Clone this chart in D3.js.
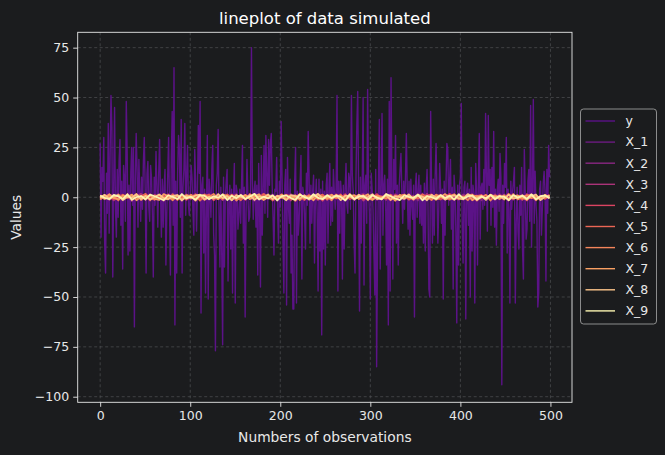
<!DOCTYPE html>
<html>
<head>
<meta charset="utf-8">
<script src="https://cdn.jsdelivr.net/npm/d3@7"></script>
<style>
  body { margin: 0; background: #1b1c1e; }
  svg { display: block; font-family: "DejaVu Sans", sans-serif; }
</style>
</head>
<body>
<div id="chart"></div>
<script>
// series names and colours (legend order)
const seriesNames = ["y", "X_1", "X_2", "X_3", "X_4", "X_5", "X_6", "X_7", "X_8", "X_9"];
const seriesColors = ["#5b1287", "#6c1b80", "#8a2882", "#ab3479", "#dc4462", "#ec6655", "#f5855b", "#f9a063", "#fcc58a", "#fbf4b0"];

const xTicks = [0, 100, 200, 300, 400, 500];
const yTicks = [-100, -75, -50, -25, 0, 25, 50, 75];

const yValues = [
  27, -20, 15, 8, 30, -23, -38, 12, -8, 37,
  -18, 20, 51, 35, -40, 5, 45, -6, -20, 14,
  -10, 18, 29, -14, 8, -36, 16, 10, -12, 48,
  22, -29, 6, -27, 12, 25, -4, 25, -65, 8,
  32, 14, -15, 19, 3, -12, 10, -6, 18, 30,
  4, -38, 12, 18, -5, -12, 16, 10, -8, -40,
  10, -4, 23, 6, -15, 12, 29, 2, -20, 9,
  -15, 5, 14, -34, -8, 11, 30, -6, -39, 20,
  43, -14, 65, -64, 8, -38, 12, 31, 24, -10,
  39, -38, 5, 14, 37, -9, 11, 26, -4, -9,
  2, 16, 10, -7, -19, 24, 8, -17, 3, 36,
  12, 48, -58, 6, 10, -28, 4, -48, -6, 31,
  -51, 9, 2, -10, 14, 26, -18, -29, -77, 6,
  12, 34, -8, -35, 5, -29, -74, 10, -35, 0,
  8, 14, -42, -3, 6, -26, 4, -48, -2, 17,
  -53, 6, 3, -16, -9, 4, -13, 7, 26, -23,
  5, -60, -8, 19, 2, -12, -10, 4, 75, 9,
  -11, 3, 8, -15, 6, -39, 17, -5, -45, 21,
  -19, 4, 26, -8, 31, 12, -10, 29, 6, 27,
  32, 6, -10, -29, 4, 3, 20, -6, -23, 8,
  -5, 38, 10, -23, -48, 6, 14, -54, 20, -4,
  -13, 9, -38, -19, -56, -56, 8, 25, -53, 3,
  -19, -11, 7, 21, -41, 5, 2, -9, -26, 12,
  -4, 33, 10, -23, 6, -13, 3, 11, -33, -2,
  9, -8, -47, 9, -27, 4, -69, 8, -26, 3,
  -34, 6, 12, -23, 4, 17, -14, 5, -12, 14,
  3, -6, 5, 51, -47, 8, -18, 8, 2, -41,
  6, -26, 4, 17, -4, -8, 12, 9, -6, 51,
  11, 3, -23, -38, 8, 36, 53, 4, -57, 10,
  -23, 7, 50, -44, 6, 11, -13, 54, 4, -8,
  -51, 12, 4, -6, -28, -49, 14, -85, -27, 8,
  39, -36, 5, 42, -19, 6, 11, -4, -34, 9,
  -64, 48, -47, 60, 8, -41, 19, 4, 31, -23,
  6, -34, 5, 14, 22, 3, -13, 8, -6, 10,
  32, 4, -16, 8, -19, 9, -4, -11, 6, -60,
  5, 12, -10, 3, 11, -13, 6, -14, 2, -23,
  7, -27, 4, 14, -3, -46, -50, 43, 6, -23,
  9, -19, 11, 27, 3, -23, -6, 17, 5, -13,
  4, -51, 8, -19, 6, 27, 24, -4, 8, 19,
  -16, 5, -46, 11, 3, -17, -63, 6, -34, 6,
  10, 47, -14, -33, 5, 8, -61, 3, 7, -14,
  4, -50, 15, -27, 6, 2, -53, 17, 4, -34,
  8, 32, -21, 5, 7, -6, 14, -4, 42, 10,
  -17, 41, 6, 14, -14, 15, -5, 33, -15, 4,
  -24, 4, 9, -7, 22, 10, -94, 6, -13, 17,
  5, 30, -28, 4, -6, -53, 8, -6, 3, 8,
  15, -53, -13, 5, -17, -26, 6, -9, 15, -26,
  -41, 24, 3, -21, -16, 8, 14, -12, 46, -25,
  6, 49, -13, 13, -4, -12, -55, -48, 4, 8,
  -19, -6, 7, 13, 3, -42, 14, -8, 26, 10
];

// X_1..X_9 read at 100 evenly spaced observations across 0..499
const x1 = [0.5,-1.2,0.8,1.6,-0.4,-1.8,0.3,1.1,-0.9,0.2,1.4,-0.6,-1.5,0.9,0.1,-0.3,1.9,-1.1,0.6,-0.2,-0.8,1.3,0.4,-1.6,0.7,-0.1,1.0,-1.3,0.2,1.7,-0.5,-1.0,0.8,0.3,-1.9,1.2,-0.7,0.5,1.5,-0.4,0.0,-1.4,0.9,1.1,-0.6,-0.2,1.6,-1.7,0.4,0.8,-1.1,0.6,-0.3,1.3,-0.9,0.2,-1.5,1.0,0.7,-0.5,1.8,-1.2,0.1,-0.8,0.6,1.4,-0.4,-1.3,0.9,0.3,-0.7,1.1,-1.6,0.5,0.2,-0.9,1.5,-0.1,-1.0,0.8,0.4,-1.8,1.2,-0.3,0.7,-0.6,1.0,-1.4,0.3,1.6,-0.2,-1.1,0.6,1.3,-0.8,0.1,-1.5,0.9,0.5,-0.4];
const x2 = [-0.3,0.9,-1.4,0.2,1.2,-0.7,0.6,-1.9,1.0,0.4,-0.5,1.5,-0.2,-1.1,0.8,1.3,-0.9,0.1,-1.6,0.7,1.1,-0.4,0.3,-1.2,1.7,-0.6,0.0,0.9,-1.3,0.5,-0.8,1.4,0.2,-0.5,-1.5,1.0,0.6,-0.3,1.2,-1.7,0.4,-0.1,1.6,-0.9,0.3,-1.2,0.8,0.5,-0.6,1.1,-1.4,0.2,0.9,-0.7,1.3,-0.2,-1.0,0.6,1.8,-0.5,0.1,-1.3,0.7,0.4,-0.9,1.5,-0.4,-1.1,0.3,0.8,-1.6,1.0,-0.2,0.6,-0.8,1.2,0.2,-1.4,0.9,-0.3,1.4,-0.6,-0.1,1.1,-1.5,0.5,0.7,-0.9,1.6,-0.4,0.3,-1.2,1.0,-0.7,0.2,1.3,-1.0,0.4,-0.5,0.8];
const x3 = [1.0,-0.6,0.3,-1.5,0.8,1.2,-0.2,-1.0,0.5,1.7,-1.3,0.1,0.9,-0.4,-1.8,0.6,1.1,-0.7,0.2,1.4,-0.9,0.4,-1.1,1.6,0.0,-0.5,1.2,-1.4,0.7,0.3,1.5,-0.8,-0.2,1.0,-1.2,0.4,1.8,-0.6,-1.0,0.9,0.2,1.3,-1.6,0.5,-0.3,1.1,-0.9,0.6,-1.4,0.8,0.3,-0.7,1.5,-1.2,0.1,0.9,-0.4,1.2,-1.7,0.4,-0.6,1.0,0.5,-1.3,1.4,-0.1,-0.8,0.7,1.1,-1.5,0.2,-0.4,1.7,-0.9,0.6,-1.1,0.3,1.3,-0.5,-1.2,0.8,1.0,-0.3,-1.6,0.5,0.9,-0.7,1.4,-1.0,0.1,1.2,-0.8,0.4,-1.4,1.6,-0.2,-0.9,0.7,0.3,-0.6];
const x4 = [-0.8,0.4,1.3,-1.1,0.2,-0.5,1.6,-1.4,0.9,-0.1,0.7,-1.6,1.1,0.3,-0.6,1.4,-1.0,0.5,0.8,-1.3,0.1,1.5,-0.7,-0.2,1.0,-1.5,0.6,0.3,-0.9,1.2,-0.4,0.9,-1.3,1.7,-0.3,-0.8,0.5,1.1,-1.6,0.2,1.3,-0.5,-1.1,0.7,0.4,-1.4,1.0,-0.2,0.6,-1.7,0.8,1.2,-0.6,-0.3,1.5,-1.0,0.3,0.9,-1.2,0.5,-0.1,1.6,-0.8,0.2,-1.5,1.1,0.6,-0.4,1.3,-0.9,0.4,-1.2,0.8,1.4,-0.6,-1.0,0.1,1.7,-1.3,0.5,-0.2,0.9,-1.5,0.6,1.2,-0.7,0.3,-1.1,1.0,-0.4,1.5,-0.9,0.2,0.7,-1.6,1.1,-0.3,0.4,-0.8,1.3];
const x5 = [0.2,1.1,-0.9,0.6,-1.6,1.3,-0.3,0.8,-1.1,0.4,1.7,-0.5,-1.2,0.9,0.3,-0.8,1.5,-1.4,0.1,0.6,-0.2,1.0,-1.7,0.7,1.2,-0.6,0.4,-1.0,1.4,-0.3,0.5,-1.5,1.1,-0.1,0.8,-0.9,1.6,0.2,-1.3,0.7,-0.4,1.2,0.3,-1.8,0.9,-0.2,1.0,-0.7,0.5,1.3,-1.1,0.6,-0.5,1.4,-1.3,0.2,0.8,-0.6,1.1,-1.5,0.9,0.4,-1.0,1.6,-0.4,-0.9,0.7,1.2,-1.2,0.3,-0.7,1.5,0.1,-1.4,0.6,1.0,-0.5,-1.1,1.3,0.2,-0.9,0.8,1.4,-1.6,0.3,-0.3,1.1,-0.8,0.6,-1.2,1.7,-0.4,0.5,-1.0,0.9,1.2,-1.5,0.2,-0.6,1.0];
const x6 = [-1.2,0.7,0.3,-0.5,1.4,-1.0,0.9,-0.2,1.6,-1.4,0.4,0.8,-1.1,1.2,-0.6,0.2,-1.5,1.0,0.5,-0.8,1.3,-0.3,0.6,-1.3,0.1,1.7,-0.9,0.4,-0.4,1.1,-1.6,0.3,0.9,-0.7,1.5,-0.1,-1.2,0.8,0.2,-1.0,1.4,-0.6,0.5,1.0,-1.4,0.7,-0.3,1.3,-0.9,0.0,0.6,-1.5,1.2,0.3,-0.7,1.6,-1.1,0.4,0.9,-0.5,-1.3,0.8,0.2,-0.6,1.1,-1.7,0.5,1.4,-0.2,-0.8,1.0,-0.4,0.7,-1.2,1.3,0.1,-1.0,0.6,1.5,-0.9,0.3,-1.4,0.9,0.5,-0.3,1.2,-1.6,0.8,-0.1,0.4,-0.7,1.6,-1.1,0.2,1.0,-0.5,0.6,-1.3,1.1,-0.2];
const x7 = [0.6,-0.9,1.5,-0.3,-1.1,0.8,0.2,1.3,-1.5,0.5,-0.4,1.0,-0.8,-1.3,1.6,0.3,-0.6,0.9,-1.2,1.1,0.4,-1.7,0.7,1.2,-0.5,0.1,-1.0,1.4,0.6,-1.4,0.9,-0.2,1.1,-0.9,0.3,1.5,-1.3,0.0,0.7,-0.6,1.2,-1.1,0.4,-0.3,1.7,-0.8,0.5,-1.5,1.0,0.2,-0.7,1.3,-0.1,0.8,-1.4,0.6,1.1,-0.9,0.3,1.5,-1.2,0.2,-0.6,1.0,0.7,-1.6,1.2,-0.4,0.5,-1.0,1.4,0.3,-0.7,0.9,-1.3,0.1,1.6,-0.5,-0.9,0.8,-0.3,1.1,-1.4,0.4,0.6,-1.1,1.3,0.2,-0.8,1.0,-1.6,0.5,0.9,-0.2,-1.2,1.4,0.0,-0.7,1.2,-0.4];
const x8 = [-0.4,1.2,-0.7,0.5,1.0,-1.4,0.3,-0.2,1.5,-0.9,0.8,-1.2,0.1,1.4,-0.5,-1.0,0.7,1.1,-1.6,0.4,-0.3,0.9,1.3,-1.1,0.2,-0.7,1.6,-0.4,0.6,-1.5,1.0,0.3,-0.8,1.2,-1.3,0.5,-0.1,1.4,-1.0,0.7,0.2,-1.5,1.1,0.6,-0.6,0.9,-1.2,0.3,1.7,-0.8,0.4,-0.2,1.0,-1.4,0.8,0.5,-1.1,1.3,-0.3,0.1,1.5,-0.9,-0.4,1.1,-1.3,0.6,0.2,-0.8,1.4,-1.0,0.7,0.3,-1.5,1.2,-0.1,0.9,-1.2,0.4,1.0,-0.6,-1.1,1.6,0.2,-0.5,0.8,-1.3,1.1,-0.2,0.6,-0.9,1.3,-0.6,-0.3,1.0,-1.0,0.5,1.4,-1.4,0.3,0.7];
const x9 = [0.9,-0.3,-1.0,1.2,0.4,-0.8,1.5,-1.3,0.1,0.6,-1.1,1.3,0.5,-0.4,-1.5,1.0,0.2,-0.9,1.6,-0.6,0.3,-1.2,1.1,0.7,-1.0,0.5,-0.2,1.4,-1.4,0.8,-0.5,1.2,-0.9,0.4,1.7,-1.1,0.3,-0.6,1.0,-1.6,0.6,0.9,-0.4,-1.3,1.3,0.1,-0.7,1.5,-0.3,-1.0,1.1,-0.5,0.8,0.2,-1.6,1.4,-0.8,0.3,0.7,-1.2,1.0,-0.1,-1.1,1.6,0.5,-0.6,-1.4,0.9,0.2,-0.3,1.3,-1.5,0.6,0.1,-0.9,1.1,-0.4,0.8,-1.2,1.5,-0.7,0.4,1.0,-1.3,0.3,-0.5,1.2,-1.0,0.6,0.2,-1.4,1.1,-0.2,0.7,-0.8,1.4,-1.1,0.5,0.9,-0.5];

const W = 665, H = 455;
const margin = {top: 32.3, right: 93, bottom: 52.7, left: 77.7};
const innerW = W - margin.left - margin.right;
const innerH = H - margin.top - margin.bottom;

const svg = d3.select("#chart").append("svg")
    .attr("width", W)
    .attr("height", H);

svg.append("rect").attr("width", W).attr("height", H).attr("fill", "#1b1c1e");

const g = svg.append("g")
    .attr("transform", `translate(${margin.left},${margin.top})`);

const x = d3.scaleLinear().domain([-24.95, 523.95]).range([0, innerW]);
const y = d3.scaleLinear().domain([-102.8, 82.7]).range([innerH, 0]);

// grid
g.append("g").selectAll("line").data(xTicks).join("line")
    .attr("x1", d => x(d)).attr("x2", d => x(d))
    .attr("y1", 0).attr("y2", innerH)
    .attr("stroke", "#505254").attr("stroke-width", 0.7).attr("stroke-dasharray", "3,2.5");
g.append("g").selectAll("line").data(yTicks).join("line")
    .attr("x1", 0).attr("x2", innerW)
    .attr("y1", d => y(d)).attr("y2", d => y(d))
    .attr("stroke", "#505254").attr("stroke-width", 0.7).attr("stroke-dasharray", "3,2.5");

// series
const series = [
  {name: "y", values: yValues.map((v, i) => [i, v])}
];
[x1, x2, x3, x4, x5, x6, x7, x8, x9].forEach((arr, k) => {
  const n = arr.length;
  series.push({name: seriesNames[k + 1], values: arr.map((v, i) => [i * 499 / (n - 1), v])});
});

const line = d3.line().x(d => x(d[0])).y(d => y(d[1]));

g.append("g").selectAll("path").data(series).join("path")
    .attr("d", d => line(d.values))
    .attr("fill", "none")
    .attr("stroke", (d, i) => seriesColors[i])
    .attr("stroke-width", (d, i) => i === 0 ? 1.4 : 1.8)
    .attr("stroke-linejoin", "round");

// axes
const xAxis = g.append("g")
    .attr("transform", `translate(0,${innerH})`)
    .call(d3.axisBottom(x).tickValues(xTicks).tickSize(4.5).tickPadding(4));
const yAxis = g.append("g")
    .call(d3.axisLeft(y).tickValues(yTicks).tickSize(4.5).tickPadding(4)
        .tickFormat(d => d < 0 ? "\u2212" + Math.abs(d) : d));

[xAxis, yAxis].forEach(a => {
  a.select(".domain").remove();
  a.selectAll(".tick line").attr("stroke", "#e8e8e8").attr("stroke-width", 0.9);
  a.selectAll(".tick text").attr("fill", "#e8e8e8").attr("font-size", 12.5)
      .attr("font-family", "DejaVu Sans, sans-serif");
});

// frame
g.append("rect")
    .attr("width", innerW).attr("height", innerH)
    .attr("fill", "none").attr("stroke", "#e8e8e8").attr("stroke-width", 0.9);

// labels
svg.append("text")
    .attr("x", margin.left + innerW / 2).attr("y", 24)
    .attr("text-anchor", "middle").attr("fill", "#ffffff")
    .attr("font-size", 16.5)
    .text("lineplot of data simulated");

svg.append("text")
    .attr("x", margin.left + innerW / 2).attr("y", 442)
    .attr("text-anchor", "middle").attr("fill", "#e8e8e8")
    .attr("font-size", 13.8)
    .text("Numbers of observations");

svg.append("text")
    .attr("transform", `translate(20.5,${margin.top + innerH / 2}) rotate(-90)`)
    .attr("text-anchor", "middle").attr("fill", "#e8e8e8")
    .attr("font-size", 13.8)
    .text("Values");

// legend
const legend = svg.append("g").attr("transform", "translate(580.5,109)");
legend.append("rect")
    .attr("width", 76).attr("height", 215).attr("rx", 3)
    .attr("fill", "#1b1c1e").attr("stroke", "#9a9a9a").attr("stroke-width", 0.9);

const items = legend.selectAll("g.item").data(seriesNames).join("g")
    .attr("class", "item")
    .attr("transform", (d, i) => `translate(0,${12 + i * 21.1})`);
items.append("line")
    .attr("x1", 5).attr("x2", 34.5)
    .attr("stroke", (d, i) => seriesColors[i]).attr("stroke-width", 1.4);
items.append("text")
    .attr("x", 45).attr("dy", "0.35em")
    .attr("fill", "#e8e8e8").attr("font-size", 12.5)
    .text(d => d);
</script>
</body>
</html>
